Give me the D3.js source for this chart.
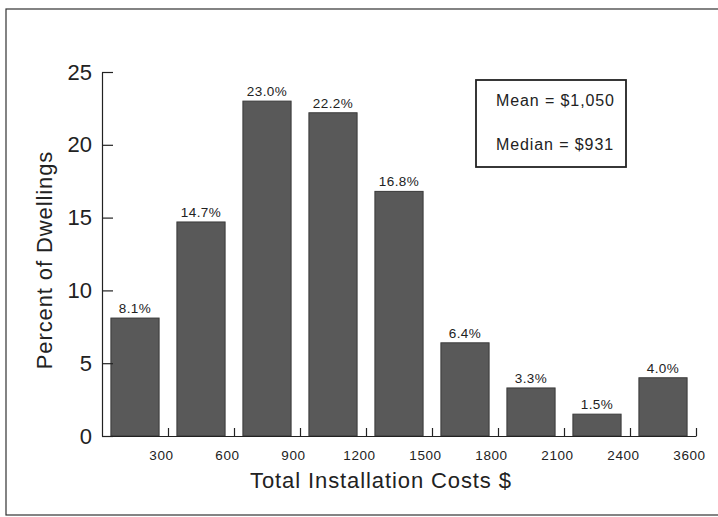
<!DOCTYPE html>
<html>
<head>
<meta charset="utf-8">
<script src="https://cdn.jsdelivr.net/npm/d3@7"></script>
<style>
  body { margin: 0; background: #fff; }
  svg { font-family: "Liberation Sans", Arial, Helvetica, sans-serif; }
  .axis path, .axis line { stroke: #222; stroke-width: 1.2; }
  .axis text { fill: #222; }
</style>
</head>
<body>
<svg id="chart" width="718" height="517"></svg>
<script>
const costLabels = ["300", "600", "900", "1200", "1500", "1800", "2100", "2400", "3600"];
const percents = [8.1, 14.7, 23.0, 22.2, 16.8, 6.4, 3.3, 1.5, 4.0];
const yTicks = [0, 5, 10, 15, 20, 25];
const statLines = ["Mean = $1,050", "Median = $931"];

const svg = d3.select("#chart");
const margin = { top: 72, left: 102, right: 22, bottom: 81 };
const width = +svg.attr("width");
const height = +svg.attr("height");

// outer frame
svg.append("rect")
    .attr("x", 6).attr("y", 9)
    .attr("width", 716).attr("height", 506)
    .attr("fill", "none")
    .attr("stroke", "#333")
    .attr("stroke-width", 1.2);

const xBand = d3.scaleBand()
    .domain(d3.range(percents.length))
    .range([margin.left, width - margin.right])
    .paddingInner(0.27)
    .paddingOuter(0.135);

// bin edges 0..n
const xEdge = d3.scaleLinear()
    .domain([0, percents.length])
    .range([margin.left, width - margin.right]);

const y = d3.scaleLinear()
    .domain([0, 25])
    .range([height - margin.bottom, margin.top]);

// bars
svg.append("g").selectAll("rect")
    .data(percents)
    .join("rect")
    .attr("x", (d, i) => xBand(i))
    .attr("y", d => y(d))
    .attr("width", xBand.bandwidth())
    .attr("height", d => y(0) - y(d))
    .attr("fill", "#595959")
    .attr("stroke", "#3a3a3a")
    .attr("stroke-width", 1);

// value labels
svg.append("g").selectAll("text")
    .data(percents)
    .join("text")
    .attr("x", (d, i) => xBand(i) + xBand.bandwidth() / 2)
    .attr("y", d => y(d) - 5)
    .attr("text-anchor", "middle")
    .attr("font-size", 13.5)
    .attr("letter-spacing", 0.4)
    .attr("fill", "#222")
    .text(d => d.toFixed(1) + "%");

// x axis
const xAxis = d3.axisBottom(xEdge)
    .tickValues(d3.range(1, percents.length + 1))
    .tickFormat(i => costLabels[i - 1])
    .tickSizeInner(-8)
    .tickSizeOuter(0)
    .tickPadding(14);

const gx = svg.append("g")
    .attr("class", "axis")
    .attr("transform", `translate(0,${y(0)})`)
    .call(xAxis);
gx.selectAll("text")
    .attr("font-size", 13.5)
    .attr("letter-spacing", 0.6)
    .attr("dx", -7);

// y axis
const yAxis = d3.axisLeft(y)
    .tickValues(yTicks)
    .tickSizeInner(-11)
    .tickSizeOuter(0)
    .tickPadding(10);

const gy = svg.append("g")
    .attr("class", "axis")
    .attr("transform", `translate(${margin.left},0)`)
    .call(yAxis);
gy.selectAll("text").attr("font-size", 22);

// axis titles
svg.append("text")
    .attr("x", 381)
    .attr("y", 488)
    .attr("text-anchor", "middle")
    .attr("font-size", 22)
    .attr("letter-spacing", 0.9)
    .attr("fill", "#222")
    .text("Total Installation Costs $");

svg.append("text")
    .attr("transform", "translate(52,260) rotate(-90)")
    .attr("text-anchor", "middle")
    .attr("font-size", 22)
    .attr("letter-spacing", 0.9)
    .attr("fill", "#222")
    .text("Percent of Dwellings");

// stats box
svg.append("rect")
    .attr("x", 476).attr("y", 80)
    .attr("width", 150).attr("height", 87)
    .attr("fill", "#fff")
    .attr("stroke", "#222")
    .attr("stroke-width", 1.8);

svg.append("g").selectAll("text")
    .data(statLines)
    .join("text")
    .attr("x", 496)
    .attr("y", (d, i) => 106 + i * 44)
    .attr("font-size", 16)
    .attr("letter-spacing", 0.9)
    .attr("fill", "#222")
    .text(d => d);
</script>
</body>
</html>
